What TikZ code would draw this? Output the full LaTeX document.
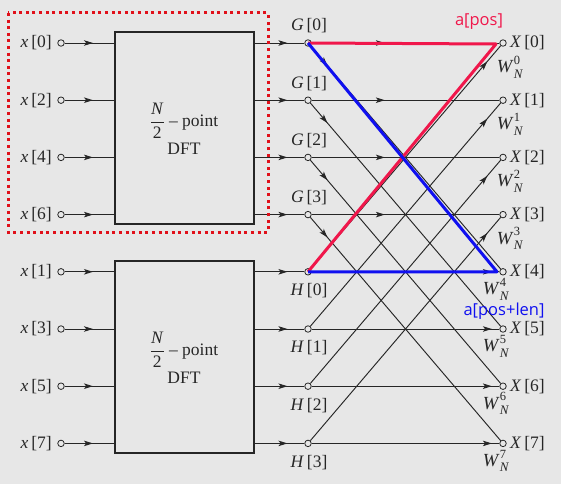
\documentclass[tikz,border=0pt]{standalone}
\usepackage{fontspec}
\setmainfont{Liberation Serif}
\newfontfamily\labfont{Open Sans}
\usetikzlibrary{arrows.meta,decorations.markings,calc}
\definecolor{bg}{HTML}{E7E7E7}
\definecolor{ink}{HTML}{262626}
\definecolor{hred}{HTML}{F0174B}
\definecolor{hblue}{HTML}{1010F0}
\definecolor{dotred}{HTML}{E0101A}
\newcommand\twf[1]{\textit{W}\rlap{\raisebox{0.45em}{\fontsize{12.5}{12.5}\selectfont #1}}\raisebox{-0.3em}{\fontsize{13}{13}\selectfont\textit{N}}}
\tikzset{
  port/.style={circle,draw=ink,fill=bg,line width=0.8pt,inner sep=0pt,minimum size=6.5pt},
  dftbox/.style={draw=ink,line width=1.3pt,fill=bg,minimum width=139pt,minimum height=192pt,inner sep=0pt},
  wire/.style={draw=ink,line width=0.95pt},
  arrowat/.style={postaction={decorate},decoration={markings,mark=at position #1 with {\arrow[ink]{Stealth[length=9pt,width=5.5pt,inset=2.2pt]}}}},
  lbl/.style={font=\fontsize{17.5}{17.5}\selectfont,inner sep=0pt,text=ink},
  wlbl/.style={font=\fontsize{18.5}{18.5}\selectfont,inner sep=0pt,text=ink},
  hilab/.style={font=\labfont\fontsize{16.5}{16.5}\selectfont,inner sep=0pt},
  hiline/.style={line width=3pt,line join=round}
}
\begin{document}
\begin{tikzpicture}[x=1pt,y=-1pt]
\fill[bg] (0,0) rectangle (561,484);
\useasboundingbox (0,0) rectangle (561,484);

% DFT boxes
\node[dftbox] (dftA) at (184.5,128) {};
\node[dftbox] (dftB) at (184.5,357) {};
\node[lbl] (fracA) at (184,121) {$\displaystyle\frac{\mbox{\textit{N}}}{\mbox{2}}$ -- point};
\node[lbl] (dftAt) at (184,149) {DFT};
\node[lbl] (fracB) at (184,350) {$\displaystyle\frac{\mbox{\textit{N}}}{\mbox{2}}$ -- point};
\node[lbl] (dftBt) at (184,378) {DFT};

% inputs
\foreach \r/\k in {0/0,1/2,2/4,3/6,4/1,5/3,6/5,7/7}{
  \pgfmathsetmacro\yy{43+57.2*\r}
  \node[port] (in\k) at (61,\yy) {};
  \node[lbl,anchor=east] (inl\k) at (52,\yy) {\textit{x}\,[\k]};
}
\foreach \k in {0,2,4,6}{\draw[wire,arrowat=0.57] (in\k) -- (in\k -| dftA.west);}
\foreach \k in {1,3,5,7}{\draw[wire,arrowat=0.57] (in\k) -- (in\k -| dftB.west);}

% G, H and X nodes
\foreach \k in {0,1,2,3}{
  \pgfmathsetmacro\yg{43+57.2*\k}
  \pgfmathsetmacro\yh{43+57.2*(\k+4)}
  \node[port] (G\k) at (308,\yg) {};
  \node[port] (H\k) at (308,\yh) {};
  \node[lbl] (Gl\k) at (309,\yg-17) {\textit{G}\,[\k]};
  \node[lbl] (Hl\k) at (309,\yh+19) {\textit{H}\,[\k]};
}
\foreach \k in {0,...,7}{
  \pgfmathsetmacro\yx{43+57.2*\k}
  \node[port] (X\k) at (503,\yx) {};
  \node[lbl,anchor=west] (Xl\k) at (510,\yx) {\textit{X}\,[\k]};
}
\foreach \k in {0,1,2,3}{
  \pgfmathsetmacro\yw{43+57.2*\k+24}
  \node[wlbl] (W\k) at (510,\yw) {\twf{\k}};
}
\foreach \k in {4,5,6,7}{
  \pgfmathsetmacro\yw{43+57.2*\k+17.5}
  \node[wlbl] (W\k) at (496,\yw) {\twf{\k}};
}

% box outputs
\foreach \k in {0,1,2,3}{
  \draw[wire,arrowat=0.66] (G\k -| dftA.east) -- (G\k);
  \draw[wire,arrowat=0.66] (H\k -| dftB.east) -- (H\k);
}

% butterflies
\foreach \k in {0,1,2,3}{
  \pgfmathtruncatemacro\kk{\k+4}
  \draw[wire,arrowat=0.39] (G\k) -- (X\k);
  \draw[wire,arrowat=0.09] (G\k) -- (X\kk);
  \draw[wire,arrowat=0.93] (H\k) -- (X\k);
  \draw[wire,arrowat=0.96] (H\k) -- (X\kk);
}

% dotted frame
\draw[dotred,line width=3pt,dash pattern=on 3pt off 3.6pt] (8,13) rectangle (268,232);

% highlights
\coordinate (rc) at (496,44);
\coordinate (bc) at (497,271.8);
\draw[hred,hiline] (G0.center) -- (rc) -- (H0.center);
\draw[hblue,hiline] (G0.center) -- (bc) -- (H0.center);
\node[hilab,text=hred] (apos) at (479,22) {a[pos]};
\node[hilab,text=hblue] (aposlen) at (504,311.5) {a[pos+len]};
\end{tikzpicture}
\end{document}
